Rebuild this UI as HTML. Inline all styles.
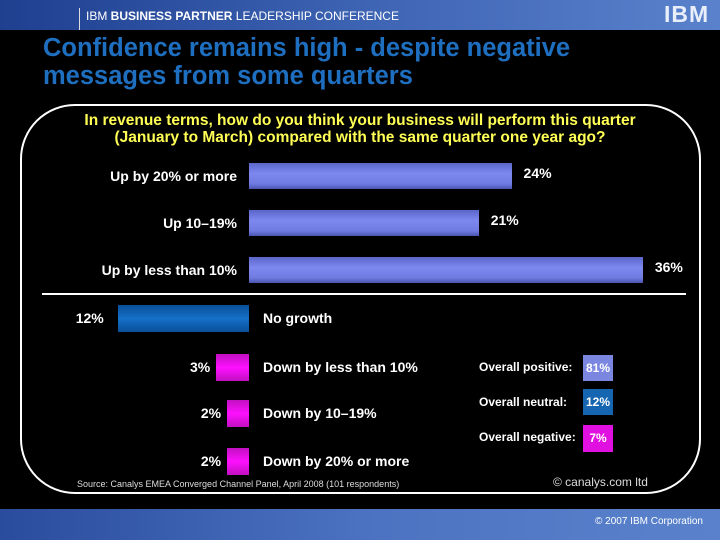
<!DOCTYPE html>
<html><head><meta charset="utf-8"><style>
body{margin:0;width:720px;height:540px;overflow:hidden;background:#000;font-family:"Liberation Sans",sans-serif;position:relative}
.abs{position:absolute}
.lbl{position:absolute;color:#fff;font-weight:bold;font-size:14px;white-space:nowrap}
</style></head><body>
<div class="abs" style="left:0;top:0;width:720px;height:30px;background:linear-gradient(90deg,#1f3f8f,#3d63b3 50%,#5a82cc)"></div>
<div class="abs" style="left:79px;top:8px;width:1px;height:22px;background:#ddd"></div>
<div class="abs" style="left:86px;top:9px;color:#fff;font-size:12px">IBM <b>BUSINESS PARTNER</b> LEADERSHIP CONFERENCE</div>
<div class="abs" style="left:664px;top:3px;width:52px;height:22px;color:#e8eefa;font-weight:bold;font-size:23px;line-height:22px;letter-spacing:1px">IBM</div>
<div class="abs" style="left:43px;top:34px;color:#1e6fc0;font-weight:bold;font-size:25.5px;line-height:28px">Confidence remains high - despite negative<br>messages from some quarters</div>
<div class="abs" style="left:20px;top:104px;width:681px;height:390px;border:2px solid #fff;border-radius:55px/55px;box-sizing:border-box"></div>
<div class="abs" style="left:40px;top:112px;width:640px;text-align:center;color:#ffff55;font-weight:bold;font-size:15.5px;line-height:17px">In revenue terms, how do you think your business will perform this quarter<br>(January to March) compared with the same quarter one year ago?</div>
<div class="abs" style="left:42px;top:293px;width:644px;height:2px;background:#fff"></div>
<div id="chart"></div>
<div class="lbl" style="left:479px;top:360px;font-size:12px">Overall positive:</div>
<div class="lbl" style="left:479px;top:395px;font-size:12px">Overall neutral:</div>
<div class="lbl" style="left:479px;top:430px;font-size:12px">Overall negative:</div>
<div class="abs" style="left:583px;top:355px;width:30px;height:26px;background:#7b86e0;color:#fff;font-size:12px;font-weight:bold;text-align:center;line-height:26px">81%</div>
<div class="abs" style="left:583px;top:389px;width:30px;height:26px;background:#1565b0;color:#fff;font-size:12px;font-weight:bold;text-align:center;line-height:26px">12%</div>
<div class="abs" style="left:583px;top:425px;width:30px;height:27px;background:#e010e0;color:#fff;font-size:12px;font-weight:bold;text-align:center;line-height:27px">7%</div>
<div class="abs" style="left:77px;top:479px;color:#ddd;font-size:9px">Source: Canalys EMEA Converged Channel Panel, April 2008 (101 respondents)</div>
<div class="abs" style="left:553px;top:475px;color:#ddd;font-size:12px">© canalys.com ltd</div>
<div class="abs" style="left:0;top:509px;width:720px;height:31px;background:linear-gradient(90deg,#2a4c9c,#4a72c0 50%,#5a82cc)"></div>
<div class="abs" style="left:595px;top:516px;color:#fff;font-size:10px">© 2007 IBM Corporation</div>
<script>
const posCats=["Up by 20% or more","Up 10–19%","Up by less than 10%"];
const posVals=[24,21,36];
const negCats=["No growth","Down by less than 10%","Down by 10–19%","Down by 20% or more"];
const negVals=[12,3,2,2];
const x0=249,k=10.94;
function xs(v){return v*k;}
const c=document.getElementById('chart');
const posY=[163,210,257];
posCats.forEach((cat,i)=>{
 const w=xs(posVals[i]);
 const b=document.createElement('div');
 
 
 b.style.cssText=`position:absolute;left:${x0}px;top:${posY[i]}px;width:${w}px;height:26px;background:linear-gradient(#5a66c8,#7d89f0 40%,#6f7be0 80%,#4a55b0)`;
 c.appendChild(b);
 const l=document.createElement('div');
 
 
 l.className='lbl';l.textContent=cat;
 l.style.cssText+=`right:${720-237}px;top:${posY[i]+5}px`;
 c.appendChild(l);
 const v=document.createElement('div');
 
 
 v.className='lbl';v.textContent=posVals[i]+'%';
 v.style.cssText+=`left:${x0+w+12}px;top:${posY[i]+2}px`;
 c.appendChild(v);
});
const negY=[305,354,400,448];
negCats.forEach((cat,i)=>{
 const w=xs(negVals[i]);
 const b=document.createElement('div');
 
 
 const bg=i==0?'linear-gradient(#0a4f9a,#1570c8 50%,#0a4f9a)':'linear-gradient(#c010c0,#ff10ff 50%,#c010c0)';
 b.style.cssText=`position:absolute;left:${x0-w}px;top:${negY[i]}px;width:${w}px;height:27px;background:${bg}`;
 c.appendChild(b);
 const l=document.createElement('div');
 
 
 l.className='lbl';l.textContent=cat;
 l.style.cssText+=`left:263px;top:${negY[i]+5}px`;
 c.appendChild(l);
 const v=document.createElement('div');
 
 
 v.className='lbl';v.textContent=negVals[i]+'%';
 v.style.cssText+=`right:${720-(x0-w)+(i==0?14:6)}px;top:${negY[i]+5}px`;
 c.appendChild(v);
});
</script>
</body></html>
